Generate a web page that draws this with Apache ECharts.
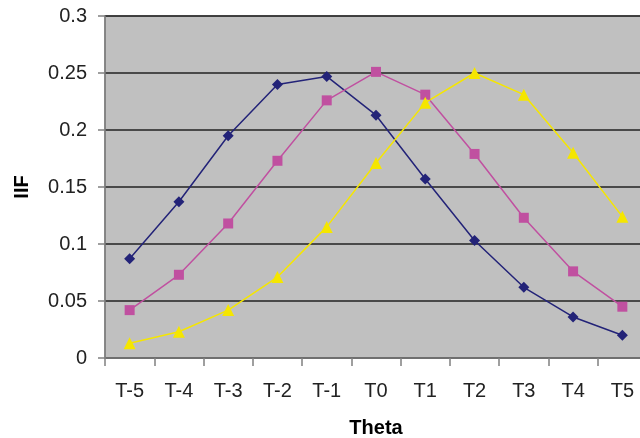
<!DOCTYPE html>
<html><head><meta charset="utf-8">
<script src="https://cdn.jsdelivr.net/npm/echarts@6/dist/echarts.min.js"></script>
<style>html,body{margin:0;padding:0;background:#fff}#c{width:640px;height:438px}</style>
</head><body><div id="c"></div>
<script>
var categories = ['T-5','T-4','T-3','T-2','T-1','T0','T1','T2','T3','T4','T5'];
var seriesA = [0.087,0.137,0.195,0.240,0.247,0.213,0.157,0.103,0.062,0.036,0.020];
var seriesB = [0.042,0.073,0.118,0.173,0.226,0.251,0.231,0.179,0.123,0.076,0.045];
var seriesC = [0.013,0.023,0.042,0.071,0.115,0.171,0.224,0.250,0.231,0.180,0.124];
var yTicks = [0, 0.05, 0.1, 0.15, 0.2, 0.25, 0.3];

var chart = echarts.init(document.getElementById('c'));
var font = 'Liberation Sans, Arial, sans-serif';
function mk(name, data, color, symbol, size){
  return {name:name,type:'line',data:data,symbol:symbol,symbolSize:size,
    lineStyle:{color:color,width:1.5},itemStyle:{color:color},animation:false};
}
chart.setOption({
  animation:false,
  backgroundColor:'#fff',
  grid:{left:105,top:16,right:-7,bottom:80,containLabel:false,outerBoundsMode:'none',
    show:true,backgroundColor:'#c0c0c0',borderColor:'#808080',borderWidth:1.5},
  xAxis:{type:'category',data:categories,boundaryGap:true,
    name:'Theta',nameLocation:'middle',nameGap:60,
    nameTextStyle:{fontFamily:font,fontWeight:'bold',fontSize:20,color:'#000'},
    axisLine:{lineStyle:{color:'#808080',width:1.5}},
    axisTick:{show:true,length:8,lineStyle:{color:'#808080',width:1.5}},
    axisLabel:{fontFamily:font,fontSize:20,color:'#222',margin:23}},
  yAxis:{type:'value',min:0,max:0.3,interval:0.05,
    name:'IIF',nameLocation:'middle',nameGap:73,nameRotate:90,
    nameTextStyle:{fontFamily:font,fontWeight:'bold',fontSize:20,color:'#000'},
    axisLine:{show:true,lineStyle:{color:'#808080',width:1.5}},
    axisTick:{show:true,length:7,lineStyle:{color:'#808080',width:1.5}},
    axisLabel:{fontFamily:font,fontSize:20,color:'#222',margin:18,
      formatter:function(v){var r=Math.round(v*100)/100; return yTicks.indexOf(r)>=0? String(r):'';}},
    splitLine:{lineStyle:{color:'#222',width:1.5}}},
  series:[
    mk('A',seriesA,'#232378','diamond',11),
    mk('B',seriesB,'#c050a0','rect',10),
    mk('C',seriesC,'#f5e600','triangle',12)
  ]
});
</script></body></html>
